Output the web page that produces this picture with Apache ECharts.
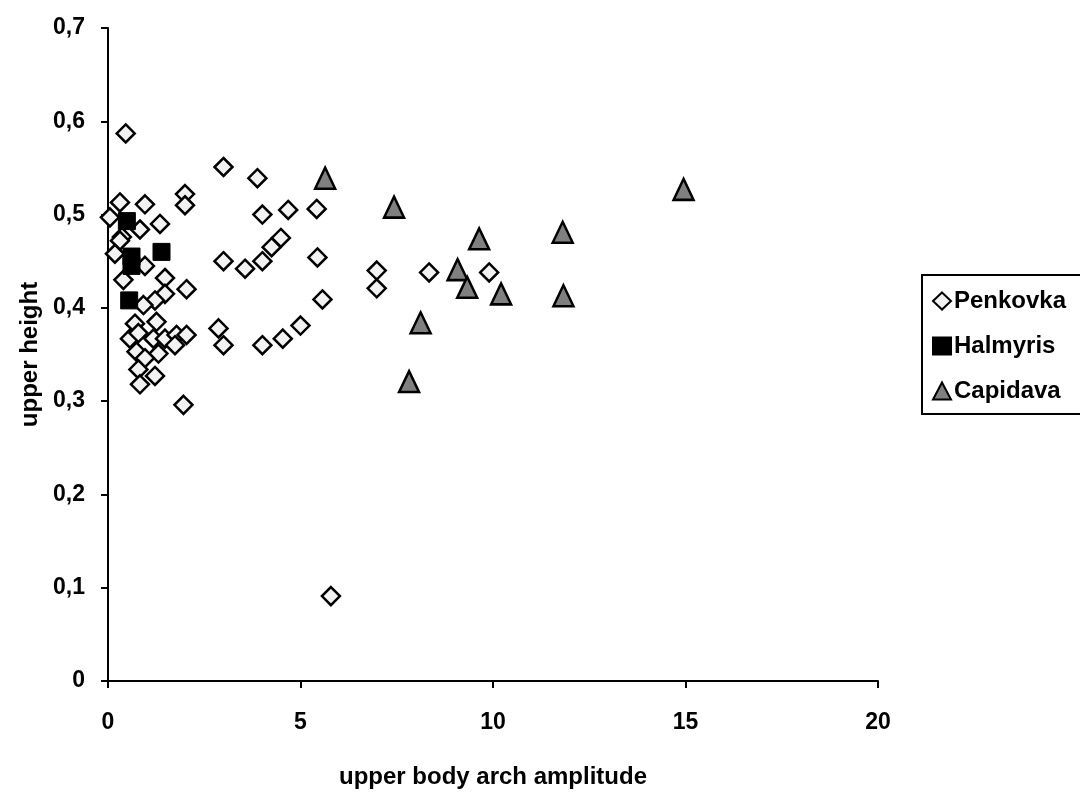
<!DOCTYPE html>
<html>
<head>
<meta charset="utf-8">
<script src="https://cdn.jsdelivr.net/npm/echarts@6/dist/echarts.min.js"></script>
<style>
  html, body { margin: 0; padding: 0; background: #fff; }
  #main { width: 1080px; height: 794px; }
</style>
</head>
<body>
<div id="main"></div>
<script>
// data: [upper body arch amplitude, upper height]
var penkovka = [
    [0.46, 0.587], [3.0, 0.551], [2.0, 0.522], [2.0, 0.510], [0.31, 0.513],
    [0.96, 0.511], [0.05, 0.497], [0.83, 0.484], [1.35, 0.490], [0.36, 0.476],
    [0.31, 0.472], [0.18, 0.458], [0.96, 0.445], [3.0, 0.450], [3.56, 0.442],
    [0.40, 0.430], [1.48, 0.432], [1.48, 0.415], [2.04, 0.420], [1.22, 0.408],
    [0.92, 0.403], [0.70, 0.383], [1.26, 0.385], [0.57, 0.367], [0.79, 0.373],
    [1.18, 0.367], [1.48, 0.367], [1.78, 0.371], [2.04, 0.371], [1.74, 0.360],
    [0.74, 0.353], [1.31, 0.351], [0.96, 0.346], [0.79, 0.334], [1.22, 0.327],
    [0.83, 0.318], [1.96, 0.296], [3.0, 0.360], [2.87, 0.378], [3.88, 0.539],
    [4.01, 0.500], [4.68, 0.505], [5.42, 0.506], [4.49, 0.475], [4.25, 0.465],
    [4.01, 0.450], [5.44, 0.454], [6.98, 0.440], [6.98, 0.421], [5.57, 0.409],
    [5.0, 0.381], [4.54, 0.367], [4.01, 0.360], [8.34, 0.438], [9.90, 0.438],
    [5.79, 0.091]
];
var halmyris = [
    [0.49, 0.493], [0.61, 0.455], [0.61, 0.445], [1.39, 0.460], [0.55, 0.408]
];
var capidava = [
    [5.64, 0.539], [7.43, 0.508], [9.64, 0.474], [11.81, 0.481], [9.08, 0.441],
    [9.33, 0.422], [10.21, 0.415], [11.83, 0.413], [8.12, 0.384], [7.82, 0.321],
    [14.95, 0.527]
];
var seriesNames = ['Penkovka', 'Halmyris', 'Capidava'];

var chart = echarts.init(document.getElementById('main'));

var fontFam = 'Liberation Sans, Arial';
function bold(size) {
    return { color: '#000', fontFamily: fontFam, fontWeight: 'bold', fontSize: size };
}

var option = {
    animation: false,
    backgroundColor: '#fff',
    grid: { left: 108, right: 202, top: 28, bottom: 109 },
    // legend frame runs off the right edge, as in the original
    graphic: [{
        type: 'rect',
        shape: { x: 922, y: 275, width: 220, height: 139 },
        style: { fill: 'none', stroke: '#000', lineWidth: 2 },
        z: -1
    }],
    legend: {
        orient: 'vertical',
        left: 922,
        top: 275,
        padding: [14, 10, 14, 10],
        itemGap: 21,
        itemWidth: 18,
        itemHeight: 17,
        borderWidth: 0,
        textStyle: Object.assign({ lineHeight: 24, padding: [0, 0, 0, -2] }, bold(24)),
        data: seriesNames
    },
    xAxis: {
        type: 'value',
        min: 0, max: 20, interval: 5,
        name: 'upper body arch amplitude',
        nameLocation: 'middle',
        nameGap: 84,
        nameTextStyle: bold(24),
        splitLine: { show: false },
        axisLine: { lineStyle: { color: '#000', width: 2 } },
        axisTick: { inside: false, length: 7, lineStyle: { color: '#000', width: 2 } },
        axisLabel: Object.assign({ margin: 30 }, bold(23))
    },
    yAxis: {
        type: 'value',
        min: 0, max: 0.7, interval: 0.1,
        name: 'upper height',
        nameLocation: 'middle',
        nameGap: 65,
        nameTextStyle: bold(24),
        splitLine: { show: false },
        axisLine: { lineStyle: { color: '#000', width: 2 } },
        axisTick: { inside: false, length: 7, lineStyle: { color: '#000', width: 2 } },
        axisLabel: Object.assign({
            margin: 23,
            formatter: function (v) { return v === 0 ? '0' : v.toFixed(1).replace('.', ','); }
        }, bold(23))
    },
    series: [
        {
            name: 'Penkovka', type: 'scatter', symbol: 'diamond', symbolSize: 18,
            itemStyle: { color: '#f2f2f2', borderColor: '#000', borderWidth: 2.5, opacity: 1 },
            data: penkovka
        },
        {
            name: 'Halmyris', type: 'scatter', symbol: 'rect', symbolSize: 17,
            itemStyle: { color: '#000', borderColor: '#000', borderWidth: 1, opacity: 1 },
            data: halmyris
        },
        {
            name: 'Capidava', type: 'scatter', symbol: 'triangle', symbolSize: [20, 21],
            itemStyle: { color: '#808080', borderColor: '#000', borderWidth: 2.5, opacity: 1 },
            data: capidava
        }
    ]
};
chart.setOption(option);
</script>
</body>
</html>
